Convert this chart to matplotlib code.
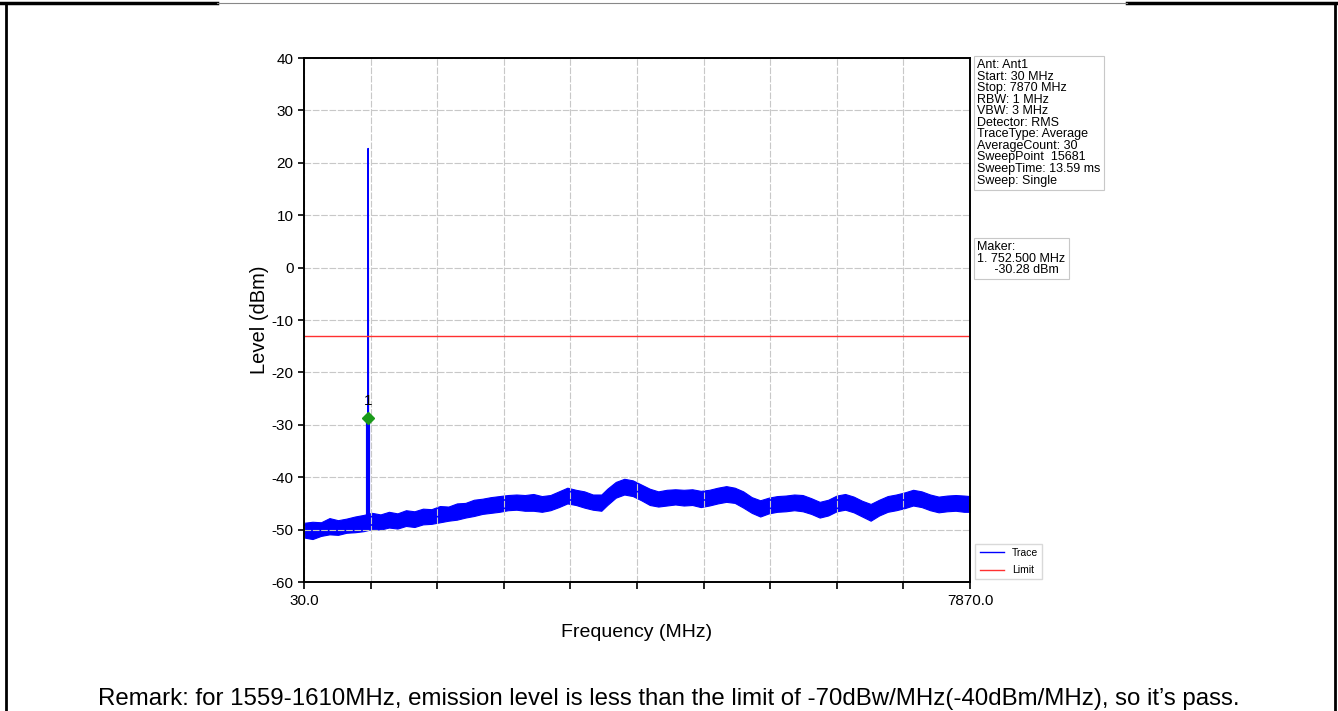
import matplotlib
matplotlib.use("Agg")
import matplotlib.pyplot as plt
from matplotlib.lines import Line2D

plt.rcParams["font.family"] = ["Liberation Sans", "DejaVu Sans"]
plt.rcParams["axes.unicode_minus"] = False

# ── Data ──────────────────────────────────────────────────────
# noise floor band (lower / upper edge), MHz vs dBm
trace_freq = [30, 130, 230, 330, 430, 530, 630, 730, 830, 930, 1030, 1130, 1230,
              1330, 1430, 1530, 1630, 1730, 1830, 1930, 2030, 2130, 2230, 2330,
              2430, 2530, 2630, 2730, 2830, 2930, 3030, 3130, 3230, 3330, 3430,
              3530, 3600, 3700, 3800, 3900, 4000, 4100, 4200, 4300, 4400, 4500,
              4600, 4700, 4800, 4900, 5000, 5100, 5200, 5300, 5400, 5500, 5600,
              5700, 5800, 5900, 6000, 6100, 6200, 6300, 6400, 6500, 6600, 6700,
              6800, 6900, 7000, 7100, 7200, 7300, 7400, 7500, 7600, 7700, 7800,
              7870]
trace_lo = [-51.5, -51.8, -51.2, -50.9, -51.0, -50.6, -50.5, -50.3, -49.9, -50.0,
            -49.6, -49.8, -49.3, -49.5, -49.0, -48.9, -48.6, -48.3, -48.1, -47.7,
            -47.4, -47.0, -46.8, -46.6, -46.3, -46.2, -46.4, -46.4, -46.6, -46.3,
            -45.7, -45.0, -45.3, -45.8, -46.2, -46.4, -45.3, -43.9, -43.3, -43.6,
            -44.4, -45.3, -45.6, -45.4, -45.2, -45.4, -45.3, -45.7, -45.4, -45.0,
            -44.7, -44.9, -45.8, -46.8, -47.5, -46.9, -46.6, -46.5, -46.3, -46.5,
            -47.0, -47.7, -47.3, -46.5, -46.2, -46.7, -47.5, -48.3, -47.3, -46.6,
            -46.3, -45.9, -45.4, -45.7, -46.3, -46.7, -46.5, -46.4, -46.6, -46.6]
trace_hi = [-48.7, -48.5, -48.6, -47.8, -48.2, -47.9, -47.5, -47.2, -46.8, -47.1,
            -46.6, -46.9, -46.3, -46.5, -46.0, -46.1, -45.5, -45.6, -45.0, -44.9,
            -44.3, -44.1, -43.8, -43.6, -43.4, -43.3, -43.4, -43.2, -43.6, -43.4,
            -42.7, -42.0, -42.4, -42.7, -43.3, -43.3, -42.2, -40.9, -40.3, -40.6,
            -41.4, -42.2, -42.7, -42.4, -42.3, -42.4, -42.3, -42.6, -42.4, -42.0,
            -41.7, -42.0, -42.7, -43.8, -44.4, -43.9, -43.6, -43.5, -43.3, -43.4,
            -44.0, -44.7, -44.3, -43.5, -43.2, -43.7, -44.5, -45.1, -44.3, -43.6,
            -43.3, -42.9, -42.4, -42.7, -43.3, -43.7, -43.5, -43.4, -43.5, -43.6]

# carrier spike at the marker position
spike_freq = [780, 783, 785, 787, 790]
spike_level = [-48.0, -29.0, 22.7, -29.0, -48.0]

marker_freq = 785
marker_level = -28.7
limit_level = -13.0

x_min, x_max = 30.0, 7870.0
x_ticks = [x_min + i * (x_max - x_min) / 10 for i in range(11)]
x_tick_labels = ["30.0"] + [""] * 9 + ["7870.0"]
y_ticks = [-60, -50, -40, -30, -20, -10, 0, 10, 20, 30, 40]

info_text = ("Ant: Ant1\nStart: 30 MHz\nStop: 7870 MHz\nRBW: 1 MHz\nVBW: 3 MHz\n"
             "Detector: RMS\nTraceType: Average\nAverageCount: 30\n"
             "SweepPoint  15681\nSweepTime: 13.59 ms\nSweep: Single")
maker_text = "Maker:\n1. 752.500 MHz\n     -30.28 dBm"
remark = ("Remark: for 1559-1610MHz, emission level is less than the limit of "
          "-70dBw/MHz(-40dBm/MHz), so it\u2019s pass.")

# ── Figure ───────────────────────────────────────────────────
fig = plt.figure(figsize=(13.38, 7.11), dpi=100)
ax = fig.add_axes([0.2272, 0.1814, 0.4978, 0.737])

ax.fill_between(trace_freq, trace_lo, trace_hi, color="#0000ff", lw=0.8,
                edgecolor="#0000ff")
ax.plot(spike_freq, spike_level, color="#0000ff", lw=1.2)
ax.plot([marker_freq, marker_freq], [spike_level[0], spike_level[1]],
        color="#0000ff", lw=3)
ax.axhline(limit_level, color="#ff3030", lw=1.0)
ax.plot([marker_freq], [marker_level], marker="D", color="#1a9a1a",
        markersize=6.5, zorder=5)
ax.text(marker_freq, marker_level + 2.0, "1", ha="center", va="bottom",
        fontsize=11)

ax.set_xlim(x_min, x_max)
ax.set_ylim(-60, 40)
ax.set_xticks(x_ticks)
ax.set_xticklabels(x_tick_labels, fontsize=11)
ax.set_yticks(y_ticks)
ax.tick_params(axis="y", labelsize=11, length=4, width=1.2)
ax.tick_params(axis="x", length=5, width=1.2)
ax.grid(True, color="#c8c8c8", lw=0.8, linestyle=(0, (6, 1.5)))
for s in ax.spines.values():
    s.set_linewidth(1.4)

ax.set_xlabel("Frequency (MHz)", fontsize=14, labelpad=12)
ax.set_ylabel("Level (dBm)", fontsize=14.5, labelpad=2)

box = dict(boxstyle="square,pad=0.25", fc="white", ec="#c8c8c8", lw=0.8)
fig.text(0.7305, 0.917, info_text, fontsize=9, va="top", ha="left",
         linespacing=0.95, bbox=box)
fig.text(0.7305, 0.661, maker_text, fontsize=9, va="top", ha="left",
         linespacing=0.95, bbox=box)

handles = [Line2D([], [], color="#0000ff", lw=1), Line2D([], [], color="#ff3030", lw=1)]
fig.legend(handles, ["Trace", "Limit"], loc="lower left",
           bbox_to_anchor=(0.729, 0.185), borderaxespad=0, fontsize=7.5,
           frameon=True, fancybox=False, edgecolor="#d0d0d0",
           handlelength=2.3, labelspacing=0.7)

fig.text(0.5, 0.008, remark, ha="center", va="baseline", fontsize=17.3)

# page borders
fig.add_artist(Line2D([0.0045, 0.0045], [0, 0.996], color="black", lw=2,
                      transform=fig.transFigure))
fig.add_artist(Line2D([0.998, 0.998], [0, 0.996], color="black", lw=2,
                      transform=fig.transFigure))
fig.add_artist(Line2D([0, 0.162], [0.996, 0.996], color="black", lw=2.5,
                      transform=fig.transFigure))
fig.add_artist(Line2D([0.842, 1], [0.996, 0.996], color="black", lw=2.5,
                      transform=fig.transFigure))
fig.add_artist(Line2D([0.162, 0.842], [0.996, 0.996], color="#888888", lw=0.8,
                      transform=fig.transFigure))

fig.savefig("out.png", dpi=100)
